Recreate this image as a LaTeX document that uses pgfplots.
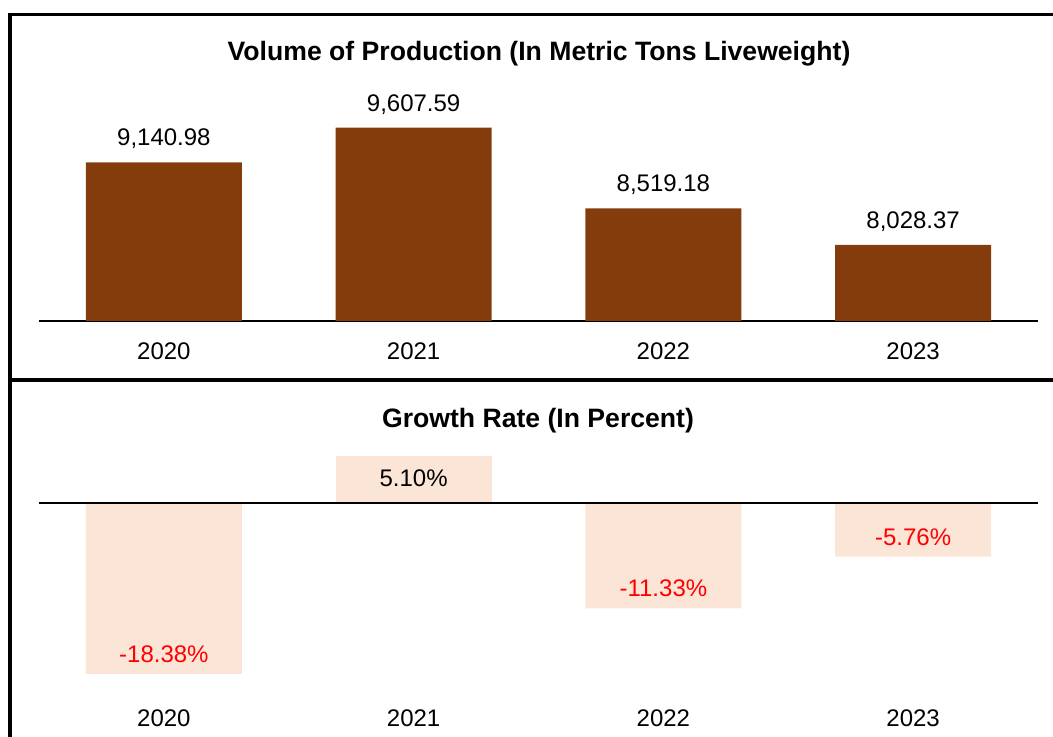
\documentclass[border=0pt]{standalone}
\usepackage{fontspec}
\setmainfont{Liberation Sans}
\usepackage{pgfplots}
\pgfplotsset{compat=1.18}
\definecolor{brownbar}{RGB}{132,60,12}
\definecolor{peach}{RGB}{251,229,214}
\definecolor{negred}{RGB}{255,0,0}
\begin{document}
\begin{tikzpicture}
\path[use as bounding box] (0pt,0pt) rectangle (526.5pt,368.5pt);
\clip (0pt,0pt) rectangle (526.5pt,368.5pt);
% top panel
\begin{axis}[
  at={(19.5pt,208pt)}, anchor=south west, scale only axis,
  width=499.5pt, height=130.5pt,
  xmin=-0.5, xmax=3.5, ymin=7000, ymax=10522,
  axis x line=bottom, axis y line=none,
  x axis line style={line width=1pt,-},
  xtick={0,1,2,3}, xticklabels={2020,2021,2022,2023},
  major tick length=0pt,
  xticklabel style={font=\fontsize{12}{14}\selectfont, anchor=base, inner sep=0pt, yshift=-19.25pt},
  clip mode=individual,
]
\addplot[ybar, bar width=78pt, bar shift=0pt, fill=brownbar, draw=none,
  nodes near coords, point meta=explicit symbolic,
  every node near coord/.append style={font=\fontsize{12}{14}\selectfont, anchor=base, inner sep=0pt, yshift=8.25pt, black}]
  coordinates {(0,9140.98) [9,140.98] (1,9607.59) [9,607.59] (2,8519.18) [8,519.18] (3,8028.37) [8,028.37]};
\end{axis}
% bottom panel
\begin{axis}[
  at={(19.5pt,18.5pt)}, anchor=south west, scale only axis,
  width=499.5pt, height=130pt,
  xmin=-0.5, xmax=3.5, ymin=-21.18, ymax=6.774,
  axis x line=bottom, axis y line=none,
  x axis line style={draw=none},
  xtick={0,1,2,3}, xticklabels={2020,2021,2022,2023},
  major tick length=0pt,
  xticklabel style={font=\fontsize{12}{14}\selectfont, anchor=base, inner sep=0pt, yshift=-13.5pt},
  clip=false,
]
\addplot[ybar, bar width=78pt, bar shift=0pt, fill=peach, draw=none,
  nodes near coords, point meta=explicit symbolic,
  every node near coord/.append style={font=\fontsize{12}{14}\selectfont, anchor=base, inner sep=0pt, yshift=-15.25pt, black}]
  coordinates {(1,5.10) [5.10\%]};
\addplot[ybar, bar width=78pt, bar shift=0pt, fill=peach, draw=none,
  nodes near coords, point meta=explicit symbolic,
  every node near coord/.append style={font=\fontsize{12}{14}\selectfont, anchor=base, inner sep=0pt, yshift=5.75pt, negred}]
  coordinates {(0,-18.38) [-18.38\%] (2,-11.33) [-11.33\%] (3,-5.76) [-5.76\%]};
\addplot[black, line width=1pt, mark=none] coordinates {(-0.5,0) (3.5,0)};
\end{axis}
% titles
\node[font=\bfseries\fontsize{13.3}{16}\selectfont] at (269.5pt,341.5pt) {Volume of Production (In Metric Tons Liveweight)};
\node[font=\bfseries\fontsize{13.3}{16}\selectfont] at (269pt,158pt) {Growth Rate (In Percent)};
% frame
\draw[line width=1.75pt] (5pt,-5pt) -- (5pt,361.15pt) -- (540pt,361.15pt);
\draw[line width=1.75pt] (5pt,178.5pt) -- (540pt,178.5pt);
\end{tikzpicture}
\end{document}
